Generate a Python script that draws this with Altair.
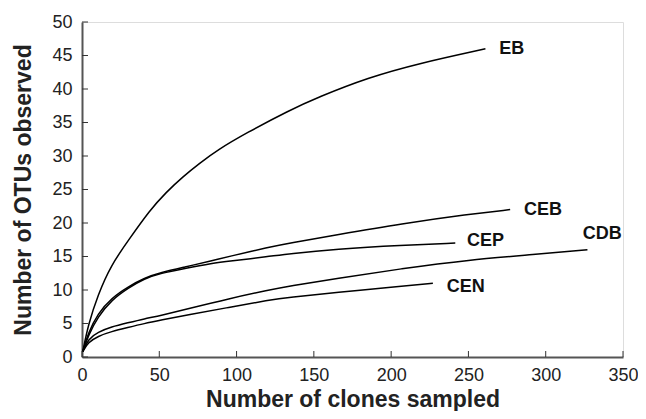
import altair as alt
import pandas as pd

# Rarefaction curves
eb_x = [0.5, 4, 10.3, 19, 30, 43.8, 54.5, 65.2, 76, 87.7, 106, 134, 153, 185, 217.5, 261]
eb_y = [0.8, 4.8, 9.3, 13.8, 17.4, 21.9, 24.6, 26.9, 28.9, 30.9, 33.4, 36.8, 38.8, 41.7, 43.8, 46.0]

ceb_x = [0.5, 4, 10.3, 19, 30, 40.3, 51, 66, 84.5, 95, 121, 134, 164, 207, 250, 277]
ceb_y = [0.8, 3.6, 6.5, 8.8, 10.5, 11.8, 12.6, 13.4, 14.4, 15.0, 16.4, 17.0, 18.2, 19.9, 21.3, 22.0]

cep_x = [0.5, 4, 10.3, 19, 30, 40.3, 51, 66, 84.5, 95, 121, 134, 164, 207, 241.5]
cep_y = [0.8, 3.2, 6.0, 8.5, 10.3, 11.7, 12.5, 13.2, 14.0, 14.3, 15.0, 15.4, 16.1, 16.7, 17.0]

cdb_x = [0.5, 4, 10.3, 19, 29.6, 40.3, 51, 68.4, 95, 121, 134, 164, 207, 250, 293, 327]
cdb_y = [0.8, 2.7, 3.7, 4.5, 5.1, 5.7, 6.2, 7.2, 8.7, 10.0, 10.6, 11.7, 13.2, 14.5, 15.3, 16.0]

cen_x = [0.5, 4, 10.3, 19, 29.6, 40.3, 51, 68.4, 95, 121, 134, 164, 207, 227]
cen_y = [0.8, 2.2, 3.1, 3.8, 4.4, 5.0, 5.5, 6.3, 7.4, 8.5, 8.9, 9.6, 10.6, 11.0]

label_names = ["EB", "CEB", "CEP", "CDB", "CEN"]
label_x = [270, 286, 249, 324, 236]
label_y = [45.9, 21.9, 17.3, 18.3, 10.5]

x_ticks = [0, 50, 100, 150, 200, 250, 300, 350]
y_ticks = [0, 5, 10, 15, 20, 25, 30, 35, 40, 45, 50]

rows = []
for name, xs, ys in [("EB", eb_x, eb_y), ("CEB", ceb_x, ceb_y), ("CEP", cep_x, cep_y),
                     ("CDB", cdb_x, cdb_y), ("CEN", cen_x, cen_y)]:
    for i, (a, b) in enumerate(zip(xs, ys)):
        rows.append({"series": name, "clones": a, "otus": b, "order": i})
df = pd.DataFrame(rows)
labels = pd.DataFrame({"name": label_names, "x": label_x, "y": label_y})
xt = pd.DataFrame({"t": x_ticks})
yt = pd.DataFrame({"t": y_ticks})

W, H = 541, 335
FONT = "Liberation Sans"

xscale = alt.Scale(domain=[0, 350], nice=False, zero=True)
yscale = alt.Scale(domain=[0, 50], nice=False, zero=True)

xaxis = alt.Axis(title="Number of clones sampled", values=x_ticks, grid=False,
                 tickSize=0, labelPadding=9, labelFontSize=18, labelFont=FONT,
                 labelColor="#222", titleFont=FONT, titleFontSize=23,
                 titleFontWeight="bold", titleColor="#222", titlePadding=4,
                 domainColor="#555", domainWidth=2, labelFlush=False,
                 labelOverlap=False)
yaxis = alt.Axis(title="Number of OTUs observed", values=y_ticks, grid=False,
                 tickSize=0, labelPadding=10, labelFontSize=18, labelFont=FONT,
                 labelColor="#222", titleFont=FONT, titleFontSize=23,
                 titleFontWeight="bold", titleColor="#222", titlePadding=16,
                 domainColor="#555", domainWidth=2, labelFlush=False,
                 labelOverlap=False)

lines = alt.Chart(df).mark_line(color="black", strokeWidth=1.5, interpolate="basis").encode(
    x=alt.X("clones:Q", scale=xscale, axis=xaxis, title="Number of clones sampled"),
    y=alt.Y("otus:Q", scale=yscale, axis=yaxis, title="Number of OTUs observed"),
    detail="series:N",
    order="order:Q",
)

text = alt.Chart(labels).mark_text(align="left", baseline="middle", fontSize=18,
                                   fontWeight="bold", font=FONT, color="#111").encode(
    x=alt.X("x:Q", scale=xscale, axis=xaxis, title="Number of clones sampled"),
    y=alt.Y("y:Q", scale=yscale, axis=yaxis, title="Number of OTUs observed"),
    text="name:N",
)

xtick_marks = alt.Chart(xt).mark_rule(color="#333", strokeWidth=1).encode(
    x=alt.X("t:Q", scale=xscale, axis=xaxis, title="Number of clones sampled"),
    y=alt.value(H),
    y2=alt.value(H - 6),
)

ytick_marks = alt.Chart(yt).mark_rule(color="#333", strokeWidth=1).encode(
    y=alt.Y("t:Q", scale=yscale, axis=yaxis, title="Number of OTUs observed"),
    x=alt.value(0),
    x2=alt.value(6),
)

chart = alt.layer(lines, text, xtick_marks, ytick_marks).properties(
    width=W, height=H,
    autosize=alt.AutoSizeParams(type="none"),
    padding={"left": 74, "top": 14, "right": 15, "bottom": 54},
).configure_view(stroke="#888", strokeWidth=1.5).configure(background="white")

chart.save("out.html", embed_options={"renderer": "svg", "actions": False})
